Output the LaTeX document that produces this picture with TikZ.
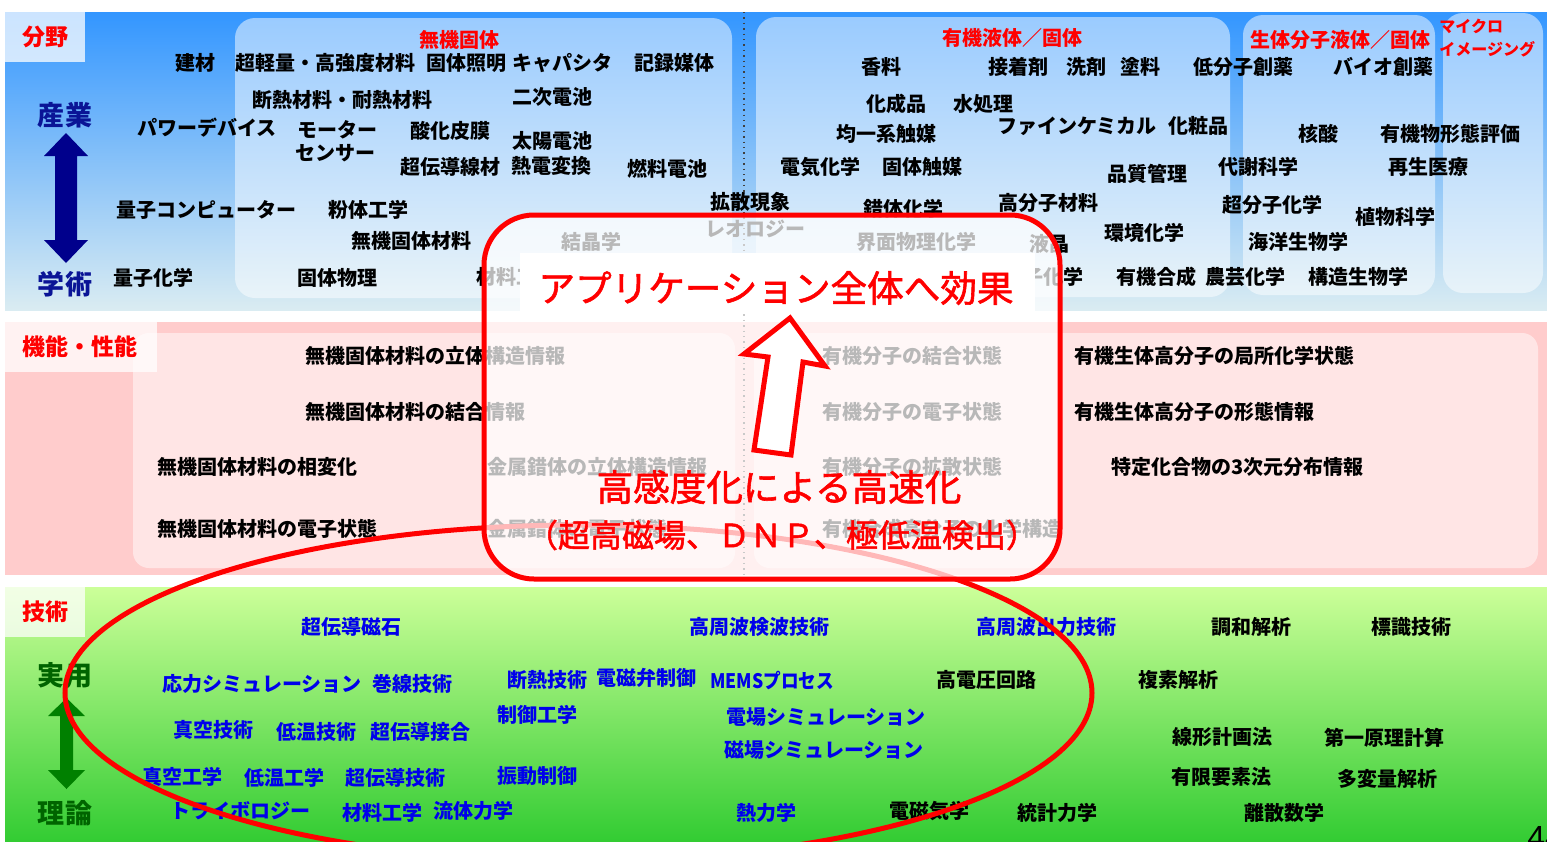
\documentclass[tikz,border=0pt]{standalone}
\usepackage{fontspec}
\setmainfont{Noto Sans CJK JP}
\newfontfamily\redjp{Noto Sans CJK JP}[FakeBold=1.6]
\newfontfamily\latinfont{Liberation Sans}
\definecolor{topA}{RGB}{51,150,255}
\definecolor{topB}{RGB}{218,236,242}
\definecolor{midpink}{RGB}{255,204,204}
\definecolor{grnA}{RGB}{204,255,153}
\definecolor{grnB}{RGB}{51,204,51}
\definecolor{navyarrow}{RGB}{0,0,140}
\definecolor{sideblue}{RGB}{10,20,150}
\definecolor{sidegreen}{RGB}{0,100,0}
\definecolor{arrowgreen}{RGB}{0,128,0}
\definecolor{techblue}{RGB}{0,0,235}
\tikzset{
  lbl/.style={font=\fontsize{10}{12}\selectfont\bfseries, inner sep=0pt, text=black},
  blu/.style={lbl, text=techblue},
  hd/.style={font=\fontsize{10}{12}\selectfont\bfseries, inner sep=0pt, text=red},
  smallhd/.style={font=\fontsize{8}{9}\selectfont\bfseries, inner sep=0pt, text=red, anchor=west},
  side/.style={font=\fontsize{13.5}{15}\selectfont\bfseries, inner sep=0pt},
  tag/.style={font=\fontsize{11.5}{13}\selectfont\bfseries, inner sep=0pt, text=red},
  panel/.style={fill=white, fill opacity=0.5, rounded corners=10pt},
  pinkpanel/.style={fill=white, fill opacity=0.5, rounded corners=8pt},
  tagbox/.style={fill=white, fill opacity=0.75},
  bigred/.style={font=\redjp\fontsize{18.3}{20}\selectfont, inner sep=0pt, text=red},
  midred/.style={font=\redjp\fontsize{16}{18}\selectfont, inner sep=0pt, text=red},
  redline/.style={draw=red, line width=2.5pt},
}
\begin{document}
\begin{tikzpicture}[x=0.5pt,y=-0.5pt]
\useasboundingbox (0,0) rectangle (1547,841);
\fill[white] (0,0) rectangle (1547,841);
% bands
\shade[top color=topA, bottom color=topB] (5,12) rectangle (1547,310);
\fill[midpink] (5,322) rectangle (1547,575);
\shade[top color=grnA, bottom color=grnB] (5,587) rectangle (1547,841);
% panels top
\fill[panel] (235,18) rectangle (732,298);
\fill[panel] (756,17) rectangle (1230,297);
\fill[panel] (1243,15) rectangle (1435,295);
\fill[panel] (1443,13) rectangle (1543,293);
% panels middle
\fill[pinkpanel] (133,333) rectangle (735,568);
\fill[pinkpanel] (754,333) rectangle (1538,568);
% tag boxes
\fill[tagbox] (5,12) rectangle (85,62);
\fill[tagbox] (5,322) rectangle (157,372);
\fill[tagbox] (5,587) rectangle (85,637);
\node[tag] (tagA) at (45,37) {分野};
\node[tag] (tagB) at (80,347) {機能・性能};
\node[tag] (tagC) at (45,612) {技術};
% dotted divider
\draw[dotted, line width=0.7pt, black!75] (744,12) -- (744,575);
% side labels and arrows
\node[side, text=sideblue] (sangyo) at (65,115) {産業};
\node[side, text=sideblue] (gakujutsu) at (65,284) {学術};
\fill[navyarrow] (66,133) -- (88,156) -- (77,156) -- (77,240) -- (88,240) -- (66,263) -- (44,240) -- (55,240) -- (55,156) -- (44,156) -- cycle;
\node[side, text=sidegreen] (jitsuyo) at (65,675) {実用};
\node[side, text=sidegreen] (riron) at (65,813) {理論};
\fill[arrowgreen] (66.5,698) -- (85,716) -- (73,716) -- (73,770) -- (85,770) -- (66.5,789) -- (48,770) -- (60,770) -- (60,716) -- (48,716) -- cycle;
% headers
\node[hd] (h1) at (459,40) {無機固体};
\node[hd] (h2) at (1012,38) {有機液体／固体};
\node[hd] (h3) at (1340,40) {生体分子液体／固体};
\node[smallhd] (h4a) at (1439,26) {マイクロ};
\node[smallhd] (h4b) at (1439,49) {イメージング};
% top band texts
\node[lbl] (a1) at (195,63) {建材};
\node[lbl] (a2) at (325,63) {超軽量・高強度材料};
\node[lbl] (a3) at (466,63) {固体照明};
\node[lbl] (a4) at (562,63) {キャパシタ};
\node[lbl] (a5) at (674,63) {記録媒体};
\node[lbl] (a6) at (342,100) {断熱材料・耐熱材料};
\node[lbl] (a7) at (552,97) {二次電池};
\node[lbl] (a8) at (207,128) {パワーデバイス};
\node[lbl] (a9) at (337,130) {モーター};
\node[lbl] (a10) at (335,153) {センサー};
\node[lbl] (a11) at (450,131) {酸化皮膜};
\node[lbl] (a12) at (552,141) {太陽電池};
\node[lbl] (a13) at (450,167) {超伝導線材};
\node[lbl] (a14) at (551,166) {熱電変換};
\node[lbl] (a15) at (667,169) {燃料電池};
\node[lbl] (a16) at (206,210) {量子コンピューター};
\node[lbl] (a17) at (368,210) {粉体工学};
\node[lbl] (a18) at (411,241) {無機固体材料};
\node[lbl] (a19) at (153,278) {量子化学};
\node[lbl] (a20) at (337,278) {固体物理};
\node[lbl] (a21) at (516,277) {材料工学};
\node[lbl] (a22) at (750,202) {拡散現象};
\node[lbl] (a23) at (755,229) {レオロジー};
\node[lbl] (a24) at (591,242) {結晶学};
\node[lbl] (a25) at (903,209) {錯体化学};
\node[lbl] (a26) at (916,242) {界面物理化学};
\node[lbl] (a27) at (1048,203) {高分子材料};
\node[lbl] (a28) at (1049,244) {液晶};
\node[lbl] (a29) at (1033,277) {高分子化学};
\node[lbl] (b1) at (881,67) {香料};
\node[lbl] (b2) at (1018,67) {接着剤};
\node[lbl] (b3) at (1086,67) {洗剤};
\node[lbl] (b4) at (1140,67) {塗料};
\node[lbl] (b5) at (1243,67) {低分子創薬};
\node[lbl] (b6) at (1383,67) {バイオ創薬};
\node[lbl] (b7) at (896,104) {化成品};
\node[lbl] (b8) at (983,104) {水処理};
\node[lbl] (b9) at (1077,126) {ファインケミカル};
\node[lbl] (b10) at (1198,126) {化粧品};
\node[lbl] (b11) at (886,134) {均一系触媒};
\node[lbl] (b12) at (820,167) {電気化学};
\node[lbl] (b13) at (922,167) {固体触媒};
\node[lbl] (b14) at (1147,174) {品質管理};
\node[lbl] (b15) at (1318,134) {核酸};
\node[lbl] (b16) at (1450,134) {有機物形態評価};
\node[lbl] (b17) at (1258,167) {代謝科学};
\node[lbl] (b18) at (1428,167) {再生医療};
\node[lbl] (b19) at (1272,205) {超分子化学};
\node[lbl] (b20) at (1395,217) {植物科学};
\node[lbl] (b21) at (1144,233) {環境化学};
\node[lbl] (b22) at (1298,242) {海洋生物学};
\node[lbl] (b23) at (1156,277) {有機合成};
\node[lbl] (b24) at (1245,277) {農芸化学};
\node[lbl] (b25) at (1358,277) {構造生物学};
% middle band texts
\node[lbl, anchor=west] (m1) at (305,356) {無機固体材料の立体構造情報};
\node[lbl, anchor=west] (m2) at (305,412) {無機固体材料の結合情報};
\node[lbl, anchor=west] (m3) at (157,467) {無機固体材料の相変化};
\node[lbl, anchor=west] (m4) at (157,529) {無機固体材料の電子状態};
\node[lbl, anchor=west] (m5) at (487,467) {金属錯体の立体構造情報};
\node[lbl, anchor=west] (m6) at (487,529) {金属錯体の電子状態};
\node[lbl, anchor=west] (m7) at (822,356) {有機分子の結合状態};
\node[lbl, anchor=west] (m8) at (822,412) {有機分子の電子状態};
\node[lbl, anchor=west] (m9) at (822,467) {有機分子の拡散状態};
\node[lbl, anchor=west] (m10) at (822,529) {有機合成高分子の化学構造};
\node[lbl, anchor=west] (m11) at (1074,356) {有機生体高分子の局所化学状態};
\node[lbl, anchor=west] (m12) at (1074,412) {有機生体高分子の形態情報};
\node[lbl, anchor=west] (m13) at (1111,467) {特定化合物の3次元分布情報};
% bottom band texts
\node[blu] (c1) at (351,627) {超伝導磁石};
\node[blu] (c2) at (262,684) {応力シミュレーション};
\node[blu] (c3) at (412,684) {巻線技術};
\node[blu] (c4) at (213,730) {真空技術};
\node[blu] (c5) at (316,732) {低温技術};
\node[blu] (c6) at (420,732) {超伝導接合};
\node[blu] (c7) at (182,777) {真空工学};
\node[blu] (c8) at (284,778) {低温工学};
\node[blu] (c9) at (395,778) {超伝導技術};
\node[blu] (c10) at (240,811) {トライボロジー};
\node[blu] (c11) at (382,813) {材料工学};
\node[blu] (c12) at (473,811) {流体力学};
\node[blu] (c13) at (547,680) {断熱技術};
\node[blu] (c14) at (646,678) {電磁弁制御};
\node[blu, xscale=0.88] (c15) at (772,680) {MEMSプロセス};
\node[blu] (c16) at (537,715) {制御工学};
\node[blu] (c17) at (537,776) {振動制御};
\node[blu] (c18) at (759,627) {高周波検波技術};
\node[blu] (c19) at (1046,627) {高周波出力技術};
\node[blu] (c20) at (826,717) {電場シミュレーション};
\node[blu] (c21) at (824,750) {磁場シミュレーション};
\node[blu] (c22) at (766,813) {熱力学};
\node[lbl] (d1) at (986,680) {高電圧回路};
\node[lbl] (d2) at (929,811) {電磁気学};
\node[lbl] (d3) at (1057,813) {統計力学};
\node[lbl] (d4) at (1251,627) {調和解析};
\node[lbl] (d5) at (1411,627) {標識技術};
\node[lbl] (d6) at (1178,680) {複素解析};
\node[lbl] (d7) at (1222,737) {線形計画法};
\node[lbl] (d8) at (1384,738) {第一原理計算};
\node[lbl] (d9) at (1221,777) {有限要素法};
\node[lbl] (d10) at (1387,779) {多変量解析};
\node[lbl] (d11) at (1284,813) {離散数学};
\node[font=\latinfont\fontsize{16}{18}\selectfont, anchor=north west, inner sep=0pt] (pg) at (1527,826) {44};
% red ellipse
\draw[redline] (578.5,693) ellipse [x radius=513.5, y radius=168];
% red rounded box
\draw[redline, fill=white, fill opacity=0.72, rounded corners=25pt] (484,215) rectangle (1060,579);
\fill[white] (520,253) rectangle (1035,314);
\node[bigred] (title) at (776,288) {アプリケーション全体へ効果};
\draw[redline, fill=white, line join=miter] (790,318) -- (744,354) -- (768,357) -- (754,450) -- (791,455) -- (803,362) -- (825,366) -- cycle;
\node[bigred] (speed) at (779,487) {高感度化による高速化};
\node[midred] (detail) at (782,535) {（超高磁場、ＤＮＰ、極低温検出）};
\end{tikzpicture}
\end{document}
